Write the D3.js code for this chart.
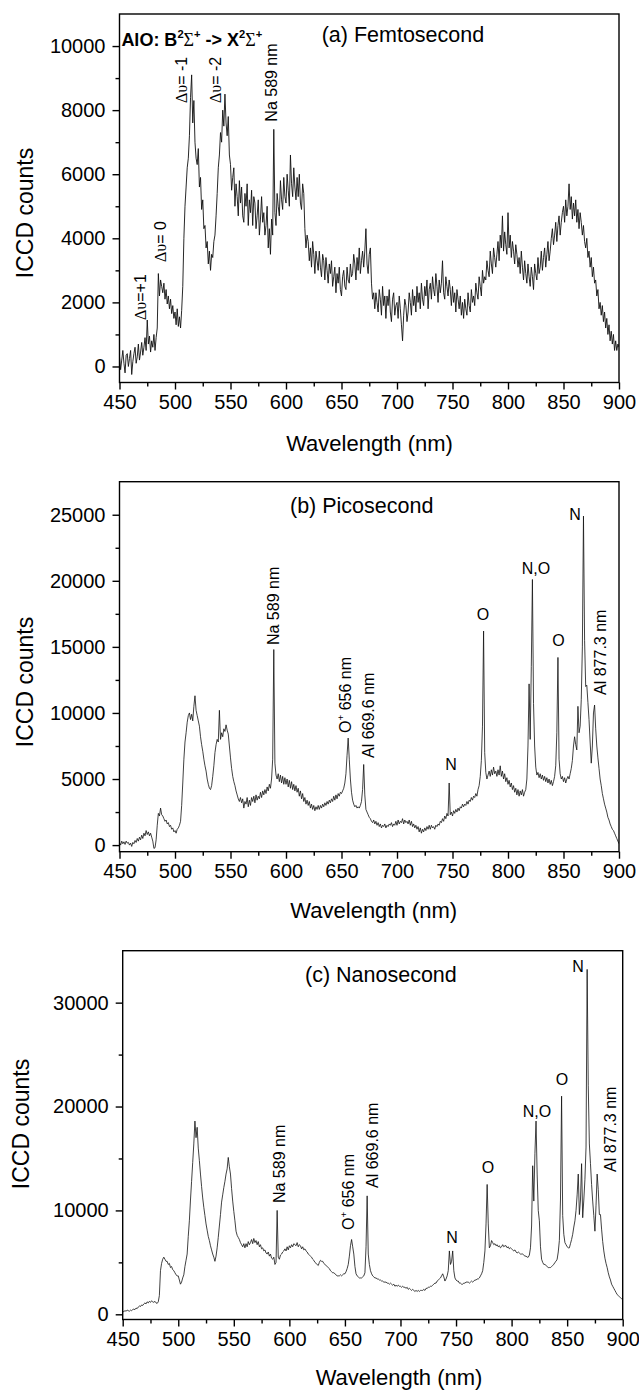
<!DOCTYPE html>
<html>
<head>
<meta charset="utf-8">
<script src="https://cdn.jsdelivr.net/npm/d3@7"></script>
<style>
   body { margin: 0; background: #fff; }
   svg { display: block; font-family: "Liberation Sans", Arial, sans-serif; }
</style>
</head>
<body>
<svg id="fig" width="639" height="1391"></svg>
<script>
// spectrometer grid, 1 nm steps
const wavelengths = d3.range(450, 901);

const femtoCounts = [
   300, -100, 200, 500, 100, -200, 350, 400, 0, 250,
   500, -250, 150, 400, 600, 100, 300, 700, 200, 450,
   750, 350, 600, 900, 500, 1450, 700, 950, 450, 800,
   600, 1000, 500, 900, 1200, 2900, 2200, 2700, 2500, 2300,
   2600, 2100, 2400, 1950, 2200, 1800, 2100, 1650, 1900, 1500,
   1700, 1300, 1800, 1250, 1550, 1200, 1750, 2500, 4000, 5000,
   5600, 6200, 6500, 7200, 8400, 9100, 7600, 8300, 7000, 6500,
   6300, 6800, 5600, 5900, 4900, 5200, 4300, 4400, 3700, 3900,
   3200, 3600, 3000, 3500, 3400, 3900, 4100, 4700, 5400, 6200,
   6600, 7300, 7000, 8000, 7500, 8500, 7600, 7200, 7800, 6600,
   6300, 5500, 5900, 6200, 5000, 5700, 5300, 4700, 5800, 5100,
   5600, 4700, 4500, 5400, 5000, 5700, 4400, 5200, 4800, 5500,
   4400, 5300, 5100, 4300, 4700, 5200, 4100, 4600, 5300, 4500,
   4800, 4100, 4400, 5000, 3700, 4300, 3500, 4600, 4100, 7400,
   4800, 4400, 5400, 5000, 4700, 5800, 5200, 4900, 5900, 5300,
   5100, 6000, 5500, 5000, 6600, 5700, 5300, 6200, 5600, 5200,
   5900, 5300, 6000, 5100, 4900, 5700, 5400, 4300, 3700, 4100,
   3900, 3300, 3700, 3100, 3900, 3500, 2900, 3600, 3300, 3000,
   3600, 3100, 2800, 3500, 3300, 2700, 3400, 3000, 2600, 3200,
   2900, 3300, 2500, 2800, 3100, 2300, 2900, 2600, 3100, 2400,
   2200, 2800, 3000, 2500, 2400, 3100, 2700, 2600, 3200, 2800,
   2900, 3500, 3200, 2700, 3400, 3000, 3700, 2900, 3300, 3600,
   3100, 3600, 4300, 3200, 2900, 3500, 3700, 2600, 2100, 2300,
   1800, 2300, 2000, 1700, 2400, 2100, 1600, 2500, 1900, 2200,
   1500, 2200, 1900, 2400, 1700, 1400, 2100, 2300, 1600, 1900,
   2000, 1500, 2200, 1800, 1300, 800, 1600, 2100, 1900, 1400,
   1700, 2300, 2000, 1600, 2400, 1900, 2200, 1700, 2500, 2000,
   2300, 1800, 2600, 2100, 1900, 2500, 2200, 2700, 1800, 2400,
   2600, 2100, 2800, 2400, 2200, 2900, 2500, 2000, 2700, 2300,
   2600, 3300, 2300, 2100, 2800, 2500, 2200, 2700, 2400, 1900,
   2500, 2000, 2300, 1700, 2400, 2100, 1800, 2200, 1600, 2000,
   1500, 2100, 1800, 1600, 2300, 1900, 1700, 2400, 2000, 2200,
   1900, 2600, 2300, 2100, 2800, 2500, 2200, 3000, 2600, 2800,
   2700, 3300, 3000, 2800, 3600, 3200, 2900, 3700, 3400, 3100,
   3500, 3900, 3300, 4100, 3700, 4700, 3600, 4200, 3800, 3500,
   4800, 3700, 4100, 3400, 3900, 3600, 3200, 3800, 3500, 3100,
   3400, 2900, 3600, 3100, 2700, 3300, 2900, 2600, 3200, 2800,
   2500, 3100, 2800, 2400, 3200, 2900, 2700, 3400, 2900, 3100,
   3600, 3000, 3400, 3700, 3100, 3500, 3900, 3300, 3600, 4000,
   4300, 3800, 4100, 4500, 3900, 4400, 4700, 4100, 4500, 4800,
   5000, 4500, 5200, 4700, 5000, 5700, 4900, 5300, 4600, 5100,
   4700, 5200, 4500, 4900, 4300, 4800, 4500, 4100, 4400, 3900,
   3700, 4000, 3400, 3600, 3100, 3400, 2800, 3100, 2600, 2700,
   2200, 2400, 1800, 2000, 1600, 1900, 1400, 1700, 1200, 1500,
   1000, 1300, 800, 1100, 700, 1000, 500, 800, 500, 700,
   600,
];

const picoCounts = [
   200, 0, 300, 100, 250, 50, 300, 150, 200, 0,
   150, -100, 200, 100, 350, 200, 500, 300, 600, 400,
   750, 500, 900, 700, 1100, 800, 1000, 700, 900, 600,
   300, -250, -200, 400, 1500, 2400, 2200, 2800, 2300, 2200,
   2000, 1800, 1900, 1600, 1700, 1400, 1500, 1200, 1300, 1000,
   1100, 900, 1200, 1300, 1500, 1800, 3000, 4700, 6500, 7800,
   8500, 9300, 9800, 10000, 9500, 9900, 9400, 10500, 11300, 10200,
   9800, 9400, 9000, 8200, 7600, 7100, 6500, 6000, 5600, 5000,
   4600, 4300, 4200, 4500, 5200, 6000, 7000, 7600, 8000, 7800,
   10200, 8000, 8500, 8200, 8800, 8600, 9100, 8700, 8400, 7500,
   6600, 5800, 5200, 4800, 4500, 4100, 3800, 3500, 3300, 3600,
   3200, 3500, 2800, 3300, 3100, 3600, 2900, 3400, 3000, 3600,
   3300, 3700, 3200, 3800, 3400, 3700, 3500, 4000, 3600, 4100,
   3800, 4200, 3900, 4400, 4100, 4600, 4300, 5000, 6500, 14800,
   6200, 5300, 5000, 5400, 4800, 5300, 4700, 5200, 4600, 5100,
   4600, 5000, 4400, 4900, 4300, 4800, 4200, 4600, 4100, 4500,
   4000, 4300, 3700, 4100, 3500, 3900, 3300, 3600, 3100, 3400,
   3000, 3300, 2800, 3100, 2700, 3000, 2600, 2900, 2700, 3000,
   2700, 3000, 2800, 3100, 2900, 3200, 3000, 3300, 3100, 3400,
   3200, 3500, 3300, 3700, 3400, 3800, 3500, 3900, 3700, 4000,
   3900, 4100, 4300, 4700, 5400, 6800, 8100, 6500, 5000, 4000,
   3400, 3100, 2900, 3000, 2800, 2900, 2800, 3000, 3300, 4200,
   6100, 3800, 2700, 2500, 2300, 2100, 2000, 1800, 1700, 1900,
   1600, 1800, 1500, 1700, 1400, 1600, 1300, 1500, 1400, 1600,
   1300, 1500, 1400, 1600, 1500, 1700, 1400, 1600, 1500, 1800,
   1500, 1900, 1600, 1800, 1700, 2000, 1600, 1900, 1700, 1800,
   1600, 1900, 1500, 1800, 1400, 1600, 1300, 1500, 1200, 1400,
   1000, 1300, 900, 1200, 1000, 1300, 1100, 1400, 1200, 1500,
   1200, 1500, 1300, 1400, 1200, 1500, 1400, 1600, 1500, 1800,
   1700, 2000, 1800, 2200, 2000, 2400, 2200, 4700, 2300, 2500,
   2200, 2600, 2400, 2700, 2500, 2800, 2600, 2900, 2800, 3100,
   2900, 3100, 3000, 3300, 3100, 3400, 3300, 3600, 3400, 3700,
   3600, 3900, 3700, 4200, 4500, 5200, 6400, 9000, 16200, 7000,
   5500, 5000, 5300, 5600, 5200, 5700, 5300, 5900, 5400, 5600,
   5200, 5700, 5300, 6000, 5200, 5600, 5000, 5400, 4800, 5100,
   4600, 4900, 4400, 4700, 4200, 4500, 4000, 4300, 3800, 4200,
   3700, 4100, 3800, 4200, 3700, 4000, 4200, 5000, 7500, 12200,
   8000, 13500, 20100, 10700, 7500, 5900, 5300, 5500, 5100, 5400,
   5000, 5300, 4900, 5200, 4800, 5100, 4700, 5000, 4600, 4900,
   4500, 4800, 5200, 6000, 8500, 14200, 6500, 5400, 5000, 5200,
   4800, 5100, 4700, 5000, 5200, 5000, 5400, 5800, 6400, 7500,
   8200, 7600, 7200, 10500, 8500, 9000, 11000, 15000, 24900, 15500,
   12000, 12100, 10800, 9500, 7800, 6200, 7500, 10000, 10600, 8800,
   7500, 6600, 5800, 5000, 4500, 3900, 3500, 3100, 2800, 2500,
   2100, 1900, 1600, 1400, 1200, 1100, 900, 700, 500, 300,
   100,
];

const nanoCounts = [
   300, 250, 350, 300, 400, 350, 300, 400, 350, 450,
   500, 450, 600, 550, 700, 800, 750, 900, 850, 1000,
   1100, 1000, 1200, 1100, 1250, 1150, 1300, 1200, 1150, 1250,
   1100, 1050, 1200, 1800, 4200, 4900, 5300, 5500, 5300, 5100,
   5100, 4800, 4900, 4500, 4600, 4300, 4200, 4000, 3800, 3700,
   3700, 3300, 2900, 3100, 3500, 3800, 4600, 5200, 5800, 7500,
   9000, 11000, 12800, 14600, 16400, 18600, 17000, 18000, 16000, 14800,
   13500, 12300, 11200, 10300, 9500, 8700, 8100, 7500, 7100, 6600,
   6200, 5800, 5500, 5100, 5600, 6400, 7400, 8500, 9600, 10800,
   11500, 12200, 12800, 13500, 14000, 15100, 14200, 13500, 12100, 10900,
   9900, 9000, 8000, 7600, 7400, 7200, 6900, 6700, 6500, 6800,
   6400, 6800, 6500, 7000, 6700, 6900, 7200, 6800, 7300, 6900,
   7100, 6700, 7000, 6500, 6700, 6300, 6400, 6100, 6200, 5900,
   5800, 6000, 5600, 5800, 5400, 5300, 5500, 4800, 5000, 10000,
   5500, 5300, 5700, 5800, 6000, 6100, 6300, 6100, 6500, 6200,
   6600, 6400, 6700, 6500, 6800, 6700, 6600, 6900, 6500, 6700,
   6600, 6300, 6500, 6200, 6300, 6100, 6000, 5800, 5700, 5600,
   5500, 5300, 5200, 5000, 4900, 4800, 4700, 5000, 5200, 5100,
   5100, 4900, 4800, 4700, 4600, 4500, 4400, 4200, 4100, 4000,
   4000, 3900, 3800, 3700, 3700, 3700, 3800, 3700, 3800, 3900,
   3900, 4100, 4400, 4800, 5600, 6600, 7200, 6500, 5800, 4600,
   3900, 3700, 3600, 3500, 3500, 3500, 3600, 3700, 4000, 6500,
   11400, 5800, 4800, 4200, 3900, 3700, 3600, 3500, 3500, 3400,
   3400, 3300, 3300, 3200, 3200, 3100, 3100, 3100, 3000, 3000,
   2900, 3000, 2900, 2800, 2900, 2700, 2800, 2700, 2800, 2700,
   2700, 2600, 2700, 2600, 2600, 2500, 2600, 2400, 2500, 2400,
   2300, 2400, 2300, 2200, 2300, 2200, 2300, 2200, 2300, 2300,
   2300, 2400, 2300, 2500, 2500, 2600, 2600, 2700, 2700, 2800,
   2900, 3000, 3000, 3200, 3300, 3400, 3500, 3700, 3900, 3600,
   3200, 3400, 3700, 4200, 6100, 4800, 5100, 6100, 4200, 3500,
   3300, 3200, 3200, 3000, 3000, 2900, 2900, 3000, 3000, 3100,
   3100, 3100, 3000, 3100, 3200, 3100, 3200, 3300, 3300, 3400,
   3400, 3500, 3700, 3900, 4200, 5000, 6100, 8700, 12500, 8700,
   6400, 6600, 7100, 6900, 6700, 6800, 6600, 6700, 6500, 6600,
   6400, 6500, 6700, 6500, 6600, 6600, 6400, 6500, 6300, 6400,
   6300, 6200, 6100, 6200, 6000, 5900, 6000, 5900, 5800, 5800,
   5800, 5700, 5600, 5600, 5500, 5500, 5700, 6400, 8500, 14300,
   10900, 15500, 18600, 13500, 10000, 9000, 6500, 5300, 5000, 4800,
   4800, 4700, 4600, 4500, 4500, 4500, 4600, 4700, 4800, 5000,
   5100, 5300, 6000, 7100, 11000, 21000, 9500, 7700, 6900, 6700,
   6500, 6400, 6400, 6800, 7200, 7700, 8400, 9000, 10000, 11500,
   13500, 9600, 11000, 14500, 9300, 11000, 13000, 16100, 33200, 22000,
   16400, 14500, 12500, 10900, 9500, 8000, 10500, 13500, 12000, 9600,
   9600, 8200, 7000, 6100, 5400, 4900, 4500, 4000, 3600, 3300,
   2900, 2700, 2500, 2300, 2100, 1900, 1800, 1700, 1600, 1500,
   1400,
];

const wlTicks = [450, 500, 550, 600, 650, 700, 750, 800, 850, 900];
const wlMinor = [475, 525, 575, 625, 675, 725, 775, 825, 875];
const femtoTicks = [0, 2000, 4000, 6000, 8000, 10000];
const femtoMinor = [1000, 3000, 5000, 7000, 9000];
const picoTicks = [0, 5000, 10000, 15000, 20000, 25000];
const picoMinor = [2500, 7500, 12500, 17500, 22500];
const nanoTicks = [0, 10000, 20000, 30000];
const nanoMinor = [5000, 15000, 25000];

// line assignments: text parts, anchor wavelength and count
const femtoLabels = [
   { parts: [['AlO: B'], ['2', 'sup'], ['Σ', 'g'], ['+', 'sup'], [' -> X'], ['2', 'sup'], ['Σ', 'g'], ['+', 'sup']], wl: 451.7, count: 10000, bold: true },
   { parts: [['Δυ', 'g'], ['=+1']], wl: 468.5, count: 1450, rotate: true },
   { parts: [['Δυ', 'g'], ['= 0']], wl: 486.5, count: 3260, rotate: true },
   { parts: [['Δυ', 'g'], ['= -1']], wl: 506, count: 8220, rotate: true },
   { parts: [['Δυ', 'g'], ['= -2']], wl: 536, count: 8220, rotate: true },
   { parts: [['Na 589 nm']], wl: 587, count: 7640, rotate: true },
];
const picoLabels = [
   { parts: [['Na 589 nm']], wl: 588.3, count: 15140, rotate: true },
   { parts: [['O'], ['+', 'sup'], [' 656 nm']], wl: 653.2, count: 8480, rotate: true },
   { parts: [['Al 669.6 nm']], wl: 673.9, count: 6590, rotate: true },
   { parts: [['Al 877.3 nm']], wl: 883.3, count: 11360, rotate: true },
   { parts: [['N']], wl: 748.6, count: 5680 },
   { parts: [['O']], wl: 777.4, count: 17030 },
   { parts: [['N,O']], wl: 825.1, count: 20520 },
   { parts: [['O']], wl: 845.5, count: 15070 },
   { parts: [['N']], wl: 860.4, count: 24600 },
];
const nanoLabels = [
   { parts: [['Na 589 nm']], wl: 590.7, count: 10710, rotate: true },
   { parts: [['O'], ['+', 'sup'], [' 656 nm']], wl: 652.8, count: 8110, rotate: true },
   { parts: [['Al 669.6 nm']], wl: 674.4, count: 12160, rotate: true },
   { parts: [['Al 877.3 nm']], wl: 888.6, count: 13700, rotate: true },
   { parts: [['N']], wl: 746.4, count: 6860 },
   { parts: [['O']], wl: 778.8, count: 13600 },
   { parts: [['N,O']], wl: 822.8, count: 18990 },
   { parts: [['O']], wl: 845.3, count: 22070 },
   { parts: [['N']], wl: 859.7, count: 32950 },
];

class SpectrumPanel {
   constructor(_config, _data) {
      this.config = {
         svg: _config.svg,
         id: _config.id,
         box: _config.box,
         yDomain: _config.yDomain,
         yTicks: _config.yTicks,
         yMinor: _config.yMinor,
         title: _config.title,
         titlePos: _config.titlePos,
         xTitlePos: _config.xTitlePos,
         yTitlePos: _config.yTitlePos,
         labels: _config.labels || [],
         lineWidth: _config.lineWidth || 0.8,
      };
      this.data = _data;
      this.initVis();
   }

   initVis() {
      const { svg, box } = this.config;
      this.g = svg.append('g').attr('class', `panel-${this.config.id}`);

      this.xScale = d3.scaleLinear().domain([450, 900]).range([box.left, box.right]);
      this.yScale = d3.scaleLinear().domain(this.config.yDomain).range([box.bottom, box.top]);

      this.g
         .append('clipPath')
         .attr('id', `clip-${this.config.id}`)
         .append('rect')
         .attr('x', box.left)
         .attr('y', box.top)
         .attr('width', box.right - box.left)
         .attr('height', box.bottom - box.top);

      const line = d3
         .line()
         .x((d) => this.xScale(d.wl))
         .y((d) => this.yScale(d.count));

      this.g
         .append('path')
         .datum(this.data)
         .attr('clip-path', `url(#clip-${this.config.id})`)
         .attr('fill', 'none')
         .attr('stroke', '#111')
         .attr('stroke-width', this.config.lineWidth)
         .attr('stroke-linejoin', 'round')
         .attr('d', line);

      this.drawAxes();
      this.drawLabels();
   }

   drawAxes() {
      const { box } = this.config;
      const styleAxis = (sel) => {
         sel.select('.domain').remove();
         sel.selectAll('line').attr('stroke', '#000').attr('stroke-width', 1.4);
         sel.selectAll('text').attr('font-size', 20).attr('fill', '#000');
      };

      this.g
         .append('g')
         .attr('transform', `translate(0,${box.bottom})`)
         .call(d3.axisBottom(this.xScale).tickValues(wlTicks).tickSize(7).tickPadding(5))
         .call(styleAxis);
      this.g
         .append('g')
         .attr('transform', `translate(0,${box.bottom})`)
         .call(d3.axisBottom(this.xScale).tickValues(wlMinor).tickSize(4).tickFormat(''))
         .call(styleAxis);
      this.g
         .append('g')
         .attr('transform', `translate(${box.left},0)`)
         .call(d3.axisLeft(this.yScale).tickValues(this.config.yTicks).tickSize(7).tickPadding(7).tickFormat(d3.format('d')))
         .call(styleAxis);
      this.g
         .append('g')
         .attr('transform', `translate(${box.left},0)`)
         .call(d3.axisLeft(this.yScale).tickValues(this.config.yMinor).tickSize(4).tickFormat(''))
         .call(styleAxis);

      this.g
         .append('rect')
         .attr('x', box.left)
         .attr('y', box.top)
         .attr('width', box.right - box.left)
         .attr('height', box.bottom - box.top)
         .attr('fill', 'none')
         .attr('stroke', '#000')
         .attr('stroke-width', 1.4);

      this.g
         .append('text')
         .attr('x', this.config.xTitlePos[0])
         .attr('y', this.config.xTitlePos[1])
         .attr('text-anchor', 'middle')
         .attr('font-size', 22)
         .text('Wavelength (nm)');

      this.g
         .append('text')
         .attr('transform', `translate(${this.config.yTitlePos[0]},${this.config.yTitlePos[1]}) rotate(-90)`)
         .attr('text-anchor', 'middle')
         .attr('font-size', 23)
         .text('ICCD counts');

      this.g
         .append('text')
         .attr('x', this.config.titlePos[0])
         .attr('y', this.config.titlePos[1])
         .attr('font-size', 21.5)
         .text(this.config.title);
   }

   drawLabels() {
      this.config.labels.forEach((d) => {
         const fs = d.bold ? 18 : 16;
         const x = this.xScale(d.wl);
         const y = this.yScale(d.count);
         const t = this.g.append('text').attr('font-size', fs);
         if (d.rotate) {
            t.attr('transform', `translate(${x + fs * 0.36},${y}) rotate(-90)`);
         } else if (d.bold) {
            t.attr('x', x).attr('y', y).attr('font-weight', 'bold');
         } else {
            t.attr('x', x).attr('y', y).attr('text-anchor', 'middle');
         }
         let shift = 0;
         d.parts.forEach(([txt, kind]) => {
            const ts = t.append('tspan').text(txt);
            const target = kind === 'sup' ? -fs * 0.42 : 0;
            if (target !== shift) {
               ts.attr('dy', target - shift);
               shift = target;
            }
            if (kind === 'sup') ts.attr('font-size', fs * 0.62);
            if (kind === 'g') ts.attr('font-family', '"Liberation Serif", "DejaVu Serif", serif').attr('font-weight', 'normal');
         });
      });
   }
}

const svg = d3.select('#fig');
const toRows = (counts) => wavelengths.map((wl, i) => ({ wl, count: counts[i] }));

new SpectrumPanel(
   {
      svg,
      id: 'a',
      box: { left: 119.5, right: 619, top: 14, bottom: 382.5 },
      yDomain: [-500, 11000],
      yTicks: femtoTicks,
      yMinor: femtoMinor,
      title: '(a) Femtosecond',
      titlePos: [321.7, 41.7],
      xTitlePos: [369.5, 451],
      yTitlePos: [33, 213],
      labels: femtoLabels,
      lineWidth: 0.9,
   },
   toRows(femtoCounts)
);

new SpectrumPanel(
   {
      svg,
      id: 'b',
      box: { left: 119.5, right: 619, top: 481.7, bottom: 851.7 },
      yDomain: [-500, 27500],
      yTicks: picoTicks,
      yMinor: picoMinor,
      title: '(b) Picosecond',
      titlePos: [290, 513.3],
      xTitlePos: [373.7, 918],
      yTitlePos: [32.7, 682],
      labels: picoLabels,
   },
   toRows(picoCounts)
);

new SpectrumPanel(
   {
      svg,
      id: 'c',
      box: { left: 122.7, right: 622.7, top: 950.7, bottom: 1319.5 },
      yDomain: [-500, 35000],
      yTicks: nanoTicks,
      yMinor: nanoMinor,
      title: '(c) Nanosecond',
      titlePos: [305, 981.7],
      xTitlePos: [399, 1385],
      yTitlePos: [29, 1124],
      labels: nanoLabels,
   },
   toRows(nanoCounts)
);
</script>
</body>
</html>
